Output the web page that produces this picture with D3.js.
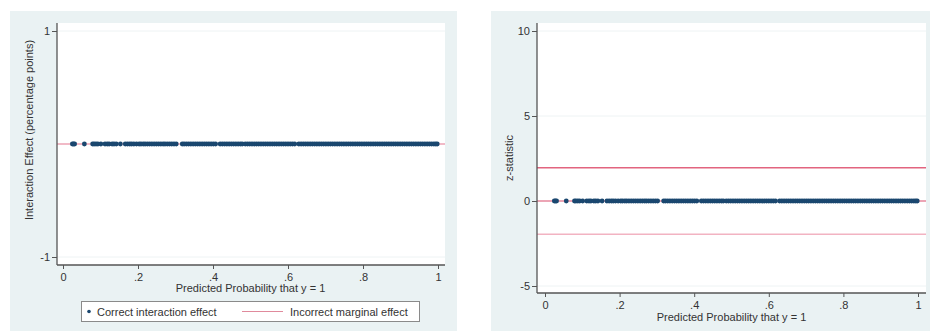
<!DOCTYPE html>
<html>
<head>
<meta charset="utf-8">
<script src="https://cdn.jsdelivr.net/npm/d3@7/dist/d3.min.js"></script>
<style>
  html, body { margin: 0; padding: 0; background: #ffffff; }
  svg { display: block; font-family: "Liberation Sans", Arial, sans-serif; }
</style>
</head>
<body>
<svg id="chart" width="930" height="331"></svg>
<script>
// Predicted probabilities at which the interaction effect was evaluated
const predictedProb = [
  0.025, 0.028, 0.031, 0.057, 0.079, 0.083, 0.088, 0.093, 0.101, 0.112,
  0.118, 0.123, 0.131, 0.136, 0.142, 0.153, 0.166, 0.172, 0.178, 0.183,
  0.189, 0.196, 0.203, 0.208, 0.214, 0.219, 0.225, 0.231, 0.237, 0.243,
  0.249, 0.255, 0.261, 0.267, 0.272, 0.278, 0.284, 0.290, 0.296, 0.302,
  0.318, 0.323, 0.329, 0.335, 0.341, 0.347, 0.353, 0.359, 0.365, 0.371,
  0.377, 0.383, 0.389, 0.395, 0.401, 0.407, 0.419, 0.425, 0.431, 0.437,
  0.443, 0.449, 0.455, 0.461, 0.467, 0.473, 0.478, 0.486, 0.492, 0.498,
  0.504, 0.510, 0.516, 0.522, 0.528, 0.534, 0.540, 0.546, 0.552, 0.558,
  0.564, 0.570, 0.576, 0.582, 0.588, 0.594, 0.600, 0.606, 0.612, 0.618,
  0.629, 0.635, 0.641, 0.647, 0.653, 0.659, 0.665, 0.671, 0.677, 0.683,
  0.689, 0.695, 0.701, 0.707, 0.713, 0.719, 0.725, 0.731, 0.737, 0.743,
  0.749, 0.755, 0.761, 0.767, 0.773, 0.779, 0.785, 0.791, 0.797, 0.803,
  0.809, 0.815, 0.821, 0.827, 0.833, 0.839, 0.845, 0.851, 0.857, 0.863,
  0.869, 0.875, 0.881, 0.887, 0.893, 0.899, 0.905, 0.911, 0.917, 0.923,
  0.929, 0.935, 0.941, 0.947, 0.953, 0.959, 0.965, 0.971, 0.977, 0.983,
  0.989, 0.994, 0.998
];
// Correct interaction effect (percentage points) at each predicted probability
const interactionEffect = predictedProb.map(() => 0);
// z-statistic of the correct interaction effect
const zStatistic = predictedProb.map(() => 0);

// Reference lines
const incorrectMarginalEffect = [0];
const zCritical = [1.96, 0, -1.96];

// Tick labels
const xTicks = [0, 0.2, 0.4, 0.6, 0.8, 1];
const xTickLabels = ["0", ".2", ".4", ".6", ".8", "1"];
const yTicksLeft = [1, -1];
const yTicksRight = [10, 5, 0, -5];

const legendLabels = ["Correct interaction effect", "Incorrect marginal effect"];

const NAVY = "#1a476f";
const LINE = "#e2647f";
const BG = "#eaf2f3";

const svg = d3.select("#chart");

// integer labels with an ASCII hyphen for negatives
const intFmt = d => String(d);

function panel(cfg) {
  const g = svg.append("g");
  // outer graph region
  g.append("rect").attr("x", cfg.bg[0]).attr("y", cfg.bg[1])
    .attr("width", cfg.bg[2] - cfg.bg[0]).attr("height", cfg.bg[3] - cfg.bg[1])
    .attr("fill", BG);
  // plot region
  g.append("rect").attr("x", cfg.plot[0]).attr("y", cfg.plot[1])
    .attr("width", cfg.plot[2] - cfg.plot[0]).attr("height", cfg.plot[3] - cfg.plot[1])
    .attr("fill", "#ffffff");

  const x = d3.scaleLinear().domain([0, 1]).range(cfg.xRange);
  const y = d3.scaleLinear().domain(cfg.yDomain).range(cfg.yRange);

  // grid lines at labelled y values
  g.append("g").selectAll("line").data(cfg.yTicks).join("line")
    .attr("x1", cfg.plot[0]).attr("x2", cfg.plot[2])
    .attr("y1", d => y(d)).attr("y2", d => y(d))
    .attr("stroke", "#eef3f4").attr("stroke-width", 1);

  // reference lines
  g.append("g").selectAll("line").data(cfg.refLines).join("line")
    .attr("x1", cfg.plot[0]).attr("x2", cfg.plot[2])
    .attr("y1", d => y(d.v)).attr("y2", d => y(d.v))
    .attr("stroke", d => d.color).attr("stroke-width", 1.4);

  // points
  g.append("g").selectAll("circle").data(predictedProb).join("circle")
    .attr("cx", d => x(d)).attr("cy", (d, i) => y(cfg.values[i]))
    .attr("r", 2.4).attr("fill", NAVY);

  // y axis
  const yAxis = d3.axisLeft(y).tickValues(cfg.yTicks).tickSize(5).tickPadding(2)
    .tickFormat(intFmt);
  const ya = g.append("g").attr("transform", `translate(${cfg.plot[0]},0)`).call(yAxis);
  ya.select(".domain").attr("d", `M0,${cfg.plot[1]}V${cfg.plot[3]}`).attr("stroke", "#555").attr("stroke-width", 1.3);
  ya.selectAll(".tick line").attr("stroke", "#555");
  ya.selectAll("text").attr("font-size", 11).attr("fill", "#333");

  // x axis
  const xAxis = d3.axisBottom(x).tickValues(xTicks).tickSize(4).tickPadding(4)
    .tickFormat((d, i) => xTickLabels[i]);
  const xa = g.append("g").attr("transform", `translate(0,${cfg.plot[3]})`).call(xAxis);
  xa.select(".domain").attr("d", `M${cfg.plot[0]},0H${cfg.plot[2]}`).attr("stroke", "#555").attr("stroke-width", 1.3);
  xa.selectAll(".tick line").attr("stroke", "#555");
  xa.selectAll("text").attr("font-size", 11).attr("fill", "#333");

  // axis titles
  g.append("text").attr("x", (cfg.xRange[0] + cfg.xRange[1]) / 2).attr("y", cfg.xTitleY)
    .attr("text-anchor", "middle").attr("font-size", 11).attr("fill", "#333")
    .text("Predicted Probability that y = 1");
  g.append("text")
    .attr("transform", `translate(${cfg.yTitleX},${cfg.yTitleCY}) rotate(-90)`)
    .attr("text-anchor", "middle").attr("font-size", 11).attr("fill", "#333")
    .text(cfg.yTitle);
  return g;
}

panel({
  bg: [10, 11, 457, 331],
  plot: [57, 23, 445, 265],
  xRange: [63, 438],
  yDomain: [-1, 1], yRange: [257, 31],
  yTicks: yTicksLeft,
  values: interactionEffect,
  refLines: incorrectMarginalEffect.map(v => ({ v, color: "#eda3b4" })),
  xTitleY: 292,
  yTitleX: 33, yTitleCY: 130,
  yTitle: "Interaction Effect (percentage points)"
});

panel({
  bg: [491, 11, 930, 331],
  plot: [537, 23, 926, 293],
  xRange: [545, 918],
  yDomain: [-5, 10], yRange: [286, 31],
  yTicks: yTicksRight,
  values: zStatistic,
  refLines: zCritical.map((v, i) => ({ v, color: i === 0 ? LINE : (i === 1 ? "#e8899e" : "#f2b3c2") })),
  xTitleY: 321,
  yTitleX: 513, yTitleCY: 158,
  yTitle: "z-statistic"
});

// legend for the left panel
const lg = svg.append("g");
lg.append("rect").attr("x", 81.5).attr("y", 301.5).attr("width", 338).attr("height", 20)
  .attr("fill", "#ffffff").attr("stroke", "#8a8a8a").attr("stroke-width", 1);
lg.append("circle").attr("cx", 89).attr("cy", 311.5).attr("r", 1.8).attr("fill", NAVY);
lg.append("text").attr("x", 97).attr("y", 315.5).attr("font-size", 11).attr("fill", "#333")
  .text(legendLabels[0]);
lg.append("line").attr("x1", 242).attr("x2", 283).attr("y1", 311.5).attr("y2", 311.5)
  .attr("stroke", "#e08a9c").attr("stroke-width", 1.2);
lg.append("text").attr("x", 290).attr("y", 315.5).attr("font-size", 11).attr("fill", "#333")
  .text(legendLabels[1]);
</script>
</body>
</html>
